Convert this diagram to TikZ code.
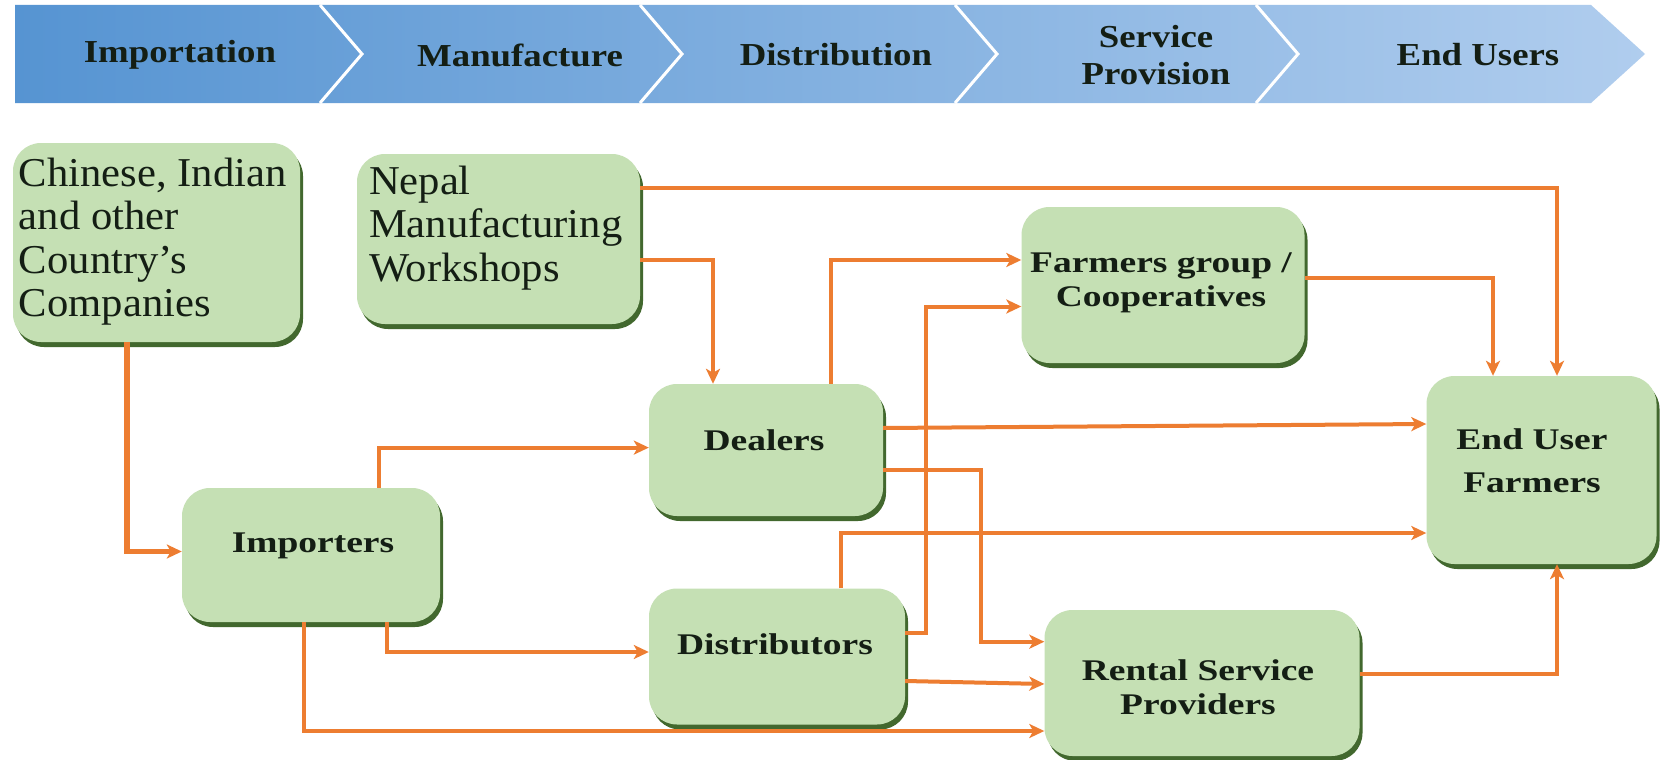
\documentclass[tikz,border=0pt]{standalone}
\usepackage{fontspec}
\setmainfont{Liberation Serif}
\newfontfamily\hdrfont[FakeStretch=1.15]{Liberation Serif}
\newfontfamily\boldboxfont[FakeStretch=1.25]{Liberation Serif}
\newfontfamily\regboxfont[FakeStretch=1.04]{Liberation Serif}
\usetikzlibrary{arrows.meta,shadows,calc}
\definecolor{boxgreen}{RGB}{197,224,180}
\definecolor{shadegreen}{RGB}{66,104,46}
\definecolor{flow}{RGB}{237,125,49}
\definecolor{blueL}{RGB}{86,148,210}
\definecolor{blueR}{RGB}{176,205,238}
\definecolor{txtdark}{RGB}{20,30,20}
\tikzset{
  box/.style={rounded corners=28pt, fill=boxgreen, draw=none, inner sep=0pt,
    general shadow={fill=shadegreen, shadow xshift=3pt, shadow yshift=-5pt}},
  regtxt/.style={inner sep=0pt, align=left, text=txtdark,
    font=\regboxfont\fontsize{41}{43.5}\selectfont},
  boldtxt/.style={inner sep=0pt, align=center, text=txtdark,
    font=\boldboxfont\bfseries\fontsize{30}{34}\selectfont},
  hdr/.style={inner sep=0pt, align=center, text=txtdark,
    font=\hdrfont\bfseries\fontsize{32}{37}\selectfont},
  flow/.style={draw=flow, line width=4pt,
    -{Stealth[length=15pt,width=14pt,inset=4pt]}},
  sep/.style={draw=white, line width=3pt}
}
\begin{document}
\begin{tikzpicture}[x=1pt,y=-1pt]
\useasboundingbox[fill=white] (0,0) rectangle (1663,760);

% header band
\shade[left color=blueL, right color=blueR]
  (15,5) -- (1591,5) -- (1645,54) -- (1591,103) -- (15,103) -- cycle;
\draw[sep] (320,5) -- (362,54) -- (320,103);
\draw[sep] (640,5) -- (682,54) -- (640,103);
\draw[sep] (955,5) -- (997,54) -- (955,103);
\draw[sep] (1256,5) -- (1298,54) -- (1256,103);

\node[hdr] (h1) at (180,55) {Importation};
\node[hdr] (h2) at (520,55) {Manufacture};
\node[hdr] (h3) at (836,55) {Distribution};
\node[hdr] (h4) at (1156,55) {Service\\Provision};
\node[hdr] (h5) at (1478,55) {End Users};

% boxes
\node[box, minimum width=287pt, minimum height=199pt] (chinese) at (156.5,242.5) {};
\node[box, minimum width=283pt, minimum height=170pt] (nepal) at (498.5,239) {};
\node[box, minimum width=283pt, minimum height=156pt] (farmers) at (1163,285) {};
\node[box, minimum width=234pt, minimum height=132pt] (dealers) at (766,450) {};
\node[box, minimum width=230pt, minimum height=188pt] (enduser) at (1541.5,470) {};
\node[box, minimum width=258pt, minimum height=134pt] (importers) at (311,555) {};
\node[box, minimum width=256pt, minimum height=136pt] (distributors) at (777,656.5) {};
\node[box, minimum width=315pt, minimum height=146pt] (rental) at (1202,683) {};

% texts
\node[regtxt, anchor=north west] (chinese-t) at ($(chinese.north west)+(6,15)$)
  {Chinese, Indian\\and other\\Country’s\\Companies};
\node[regtxt, anchor=north west] (nepal-t) at ($(nepal.north west)+(12,12)$)
  {Nepal\\Manufacturing\\Workshops};
\node[boldtxt] (farmers-t) at (1161,283) {Farmers group /\\Cooperatives};
\node[boldtxt] (dealers-t) at (764,440) {Dealers};
\node[boldtxt, font=\boldboxfont\bfseries\fontsize{30}{43}\selectfont] (enduser-t) at (1532,461) {End User\\Farmers};
\node[boldtxt] (importers-t) at (313,546) {Importers};
\node[boldtxt] (distributors-t) at (775,644) {Distributors};
\node[boldtxt] (rental-t) at (1198,687) {Rental Service\\Providers};

% connectors
\draw[flow, line width=5.5pt] (chinese.south -| 127,0) |- (importers.west |- 0,551.5);
\draw[flow] (nepal.east |- 0,188) -| (enduser.north -| 1557,0);
\draw[flow] (nepal.east |- 0,260) -| (dealers.north -| 713,0);
\draw[flow] (dealers.north -| 830.5,0) |- (farmers.west |- 0,260);
\draw[flow] (distributors.east |- 0,633) -| (926,306.5) -- (farmers.west |- 0,306.5);
\draw[flow] (farmers.east |- 0,278) -| (enduser.north -| 1493,0);
\draw[flow] (dealers.east |- 0,428) -- (enduser.west |- 0,424);
\draw[flow] (dealers.east |- 0,470) -| (981,641.7) -- (rental.west |- 0,641.7);
\draw[flow] (distributors.north -| 841,0) |- (enduser.west |- 0,533);
\draw[flow] (importers.north -| 378.6,0) |- (dealers.west |- 0,447.6);
\draw[flow] (importers.south -| 387,0) |- (distributors.west |- 0,652);
\draw[flow] (importers.south -| 304,0) |- (rental.west |- 0,731);
\draw[flow] (distributors.east |- 0,681) -- (rental.west |- 0,684);
\draw[flow] (rental.east |- 0,673.5) -| (enduser.south -| 1557,0);
\end{tikzpicture}
\end{document}
